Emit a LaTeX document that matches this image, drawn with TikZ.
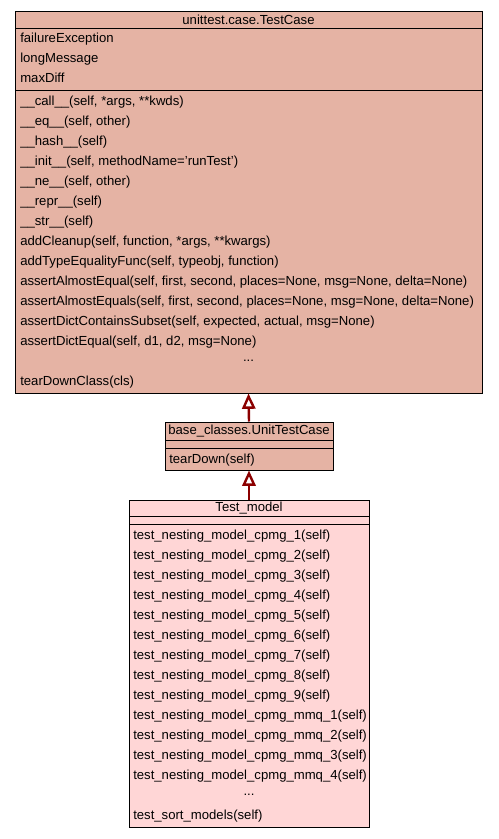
\documentclass[tikz,border=0pt]{standalone}
\usepackage{fontspec}
\setmainfont{Liberation Sans}
\usetikzlibrary{arrows.meta,positioning,fit}
\definecolor{basefill}{RGB}{229,179,164}
\definecolor{testfill}{RGB}{255,214,214}
\definecolor{inheritred}{RGB}{139,0,0}
\begin{document}
\begin{tikzpicture}[x=0.75pt,y=-0.75pt,
  every node/.style={font=\fontsize{9.85}{12}\selectfont,inner sep=0pt},
  classbox/.style={draw=black,line width=0.75pt,inner sep=0pt},
  member/.style={anchor=base west},
  inherit/.style={-{Triangle[open,length=11.5pt,width=10pt,line width=1.8pt]},draw=inheritred,line width=1.8pt}]
\useasboundingbox[fill=white] (0,0) rectangle (499,839);
% unittest.case.TestCase
\node[classbox,fill=basefill,fit={(15,11) (482,393)}] (testcase) {};
\draw (15,28) -- (482,28); \draw (15,90) -- (482,90);
\node at (248.5,20) (testcasename) {unittest.case.TestCase};
\foreach \txt [count=\i from 0] in {failureException,longMessage,maxDiff}
  \node[member] at (20,42.5+20*\i) {\txt};
\foreach \txt [count=\i from 0] in {\_\_call\_\_(self{,} *args{,} **kwds),\_\_eq\_\_(self{,} other),\_\_hash\_\_(self),\_\_init\_\_(self{,} methodName='runTest'),\_\_ne\_\_(self{,} other),\_\_repr\_\_(self),\_\_str\_\_(self),addCleanup(self{,} function{,} *args{,} **kwargs),addTypeEqualityFunc(self{,} typeobj{,} function),assertAlmostEqual(self{,} first{,} second{,} places=None{,} msg=None{,} delta=None),assertAlmostEquals(self{,} first{,} second{,} places=None{,} msg=None{,} delta=None),assertDictContainsSubset(self{,} expected{,} actual{,} msg=None),assertDictEqual(self{,} d1{,} d2{,} msg=None)}
  \node[member] at (20,105.5+20*\i) {\txt};
\node at (248.5,361) (testcasedots) {...};
\node[member] at (20,385.5) {tearDownClass(cls)};
% base_classes.UnitTestCase
\node[classbox,fill=basefill,fit={(165,422) (333,470)}] (unittestcase) {};
\draw (165,440) -- (333,440); \draw (165,448) -- (333,448);
\node at (249,431.5) (unittestcasename) {base\_classes.UnitTestCase};
\node[member] at (169,463.5) {tearDown(self)};
% Test_model
\node[classbox,fill=testfill,fit={(129,500) (369,827)}] (testmodel) {};
\draw (129,516) -- (369,516); \draw (129,524) -- (369,524);
\node at (249,508.5) (testmodelname) {Test\_model};
\foreach \txt [count=\i from 0] in {cpmg\_1,cpmg\_2,cpmg\_3,cpmg\_4,cpmg\_5,cpmg\_6,cpmg\_7,cpmg\_8,cpmg\_9,cpmg\_mmq\_1,cpmg\_mmq\_2,cpmg\_mmq\_3,cpmg\_mmq\_4}
  \node[member] at (133,539.5+20*\i) {test\_nesting\_model\_\txt(self)};
\node at (249,795) (testmodeldots) {...};
\node[member] at (133,819.5) {test\_sort\_models(self)};
% inheritance
\draw[inherit] (unittestcase.north) -- (testcase.south);
\draw[inherit] (testmodel.north) -- (unittestcase.south);
\end{tikzpicture}
\end{document}
